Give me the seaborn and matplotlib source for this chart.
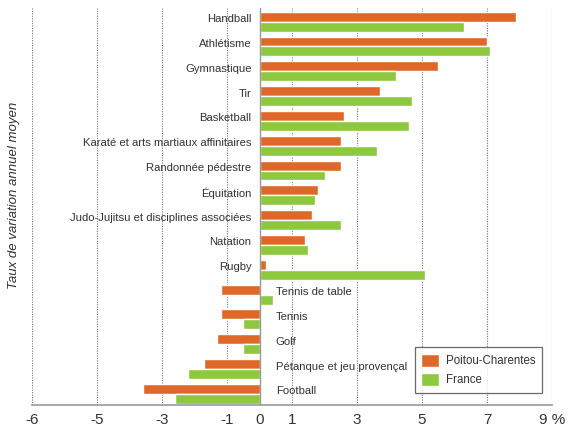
import matplotlib
matplotlib.use("Agg")
import matplotlib.pyplot as plt
import seaborn as sns
import pandas as pd

categories = ["Handball", "Athlétisme", "Gymnastique", "Tir", "Basketball",
              "Karaté et arts martiaux affinitaires", "Randonnée pédestre", "Équitation",
              "Judo-Jujitsu et disciplines associées", "Natation", "Rugby",
              "Tennis de table", "Tennis", "Golf", "Pétanque et jeu provençal", "Football"]
poitou = [7.9, 7.0, 5.5, 3.7, 2.6, 2.5, 2.5, 1.8, 1.6, 1.4, 0.2, -1.2, -1.2, -1.3, -1.7, -3.6]
france = [6.3, 7.1, 4.2, 4.7, 4.6, 3.6, 2.0, 1.7, 2.5, 1.5, 5.1, 0.4, -0.5, -0.5, -2.2, -2.6]
series = ["Poitou-Charentes", "France"]
tick_pos = [-7, -5, -3, -1, 0, 1, 3, 5, 7, 9]
tick_labels = ["-6", "-5", "-3", "-1", "0", "1", "3", "5", "7", "9 %"]
grid_pos = [-7, -5, -3, -1, 1, 3, 5, 7, 9]
ylabel = "Taux de variation annuel moyen"

df = pd.DataFrame({
    "cat": categories * 2,
    "val": poitou + france,
    "serie": [series[0]] * len(categories) + [series[1]] * len(categories),
})

sns.set_style("white")
plt.rcParams['font.family'] = ['Liberation Sans', 'DejaVu Sans']

fig = plt.figure(figsize=(5.69, 4.30), dpi=100)
ax = fig.add_axes([32/569, 25/430, 520/569, 397/430])

orange = "#DF6829"
green = "#8DC83F"
sns.barplot(data=df, x="val", y="cat", hue="serie", order=categories,
            hue_order=series, palette=[orange, green], orient="h",
            width=0.8, saturation=1, ax=ax, legend=True)

ax.set_xlim(-7, 9)
ax.set_ylim(15.45, -0.55)

for g in grid_pos:
    ax.axvline(g, color="#777777", linestyle=(0, (1, 1.2)), linewidth=0.8, zorder=0)
ax.axvline(0, color="#999999", linewidth=1.0, zorder=3)

for s in ["top", "right", "left"]:
    ax.spines[s].set_visible(False)
ax.spines["bottom"].set_color("#999999")
ax.spines["bottom"].set_linewidth(1.2)

ax.set_xticks(tick_pos)
ax.set_xticklabels(tick_labels, fontsize=11, color="#333333")
ax.tick_params(axis="x", length=3, color="#999999", pad=4, direction="inout")
ax.set_yticks([])
ax.set_xlabel("")
ax.set_ylabel("")

for i, (c, p) in enumerate(zip(categories, poitou)):
    if p > 0:
        ax.text(-0.25, i - 0.1, c, ha="right", va="center", fontsize=8.1, color="#333333")
    else:
        ax.text(0.5, i - 0.1, c, ha="left", va="center", fontsize=8.1, color="#333333")

fig.text(14/569, 1 - 195/430, ylabel, rotation=90, ha="center", va="center",
         fontsize=9.5, style="italic", color="#333333")

handles, labels = ax.get_legend_handles_labels()
leg = ax.legend(handles, labels, loc="lower right", bbox_to_anchor=(0.992, 0.015),
                fontsize=8.3, frameon=True, fancybox=False, handlelength=1.5,
                handleheight=1.3, borderpad=0.6, labelspacing=0.5, handletextpad=0.6)
leg.get_frame().set_edgecolor("#444444")
leg.get_frame().set_linewidth(0.9)
for t in leg.get_texts():
    t.set_color("#333333")

fig.savefig("out.png", dpi=100)
